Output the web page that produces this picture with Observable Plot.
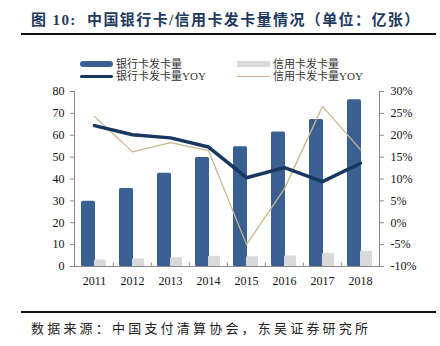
<!DOCTYPE html>
<html>
<head>
<meta charset="utf-8">
<script src="https://cdn.jsdelivr.net/npm/d3@7"></script>
<script src="https://cdn.jsdelivr.net/npm/@observablehq/plot@0.6"></script>
<style>
  html, body { margin: 0; padding: 0; background: #fff; }
  #page { position: relative; width: 440px; height: 346px; overflow: hidden; font-family: "Liberation Serif", "Noto Sans CJK SC", serif; }
  #title { position: absolute; left: 31px; top: 10px; font-size: 15px; line-height: 20px; font-weight: bold; color: #1f3a5f; letter-spacing: 1.4px; white-space: nowrap; }
  .rule { position: absolute; left: 21px; width: 415px; height: 2px; background: #111; }
  .leg { position: absolute; font-size: 11px; line-height: 12px; color: #333; white-space: nowrap; display: flex; align-items: center; }
  .sw { display: inline-block; width: 33px; margin-right: 3px; }
  #chart { position: absolute; left: 0; top: 84px; }
  #source { position: absolute; left: 31px; top: 320px; font-size: 13px; line-height: 18px; color: #222; letter-spacing: 3.2px; white-space: nowrap; }
</style>
</head>
<body>
<div id="page">
  <div id="title">图 10:&nbsp; 中国银行卡/信用卡发卡量情况（单位：亿张）</div>
  <div class="rule" style="top:33px"></div>
  <div id="legend"></div>
  <div id="chart"></div>
  <div class="rule" style="top:311px"></div>
  <div id="source">数据来源：中国支付清算协会，东吴证券研究所</div>
</div>
<script>
const years = ["2011", "2012", "2013", "2014", "2015", "2016", "2017", "2018"];
const bankCards = [29.8, 35.7, 42.6, 49.8, 54.7, 61.5, 67.2, 76.2];
const creditCards = [3.0, 3.4, 4.0, 4.7, 4.5, 4.8, 6.0, 7.0];
const bankYoy = [22.2, 20.1, 19.4, 17.3, 10.3, 12.6, 9.4, 13.6];
const creditYoy = [24.3, 16.2, 18.3, 16.5, -5.0, 7.8, 26.6, 16.7];
const leftTicks = [0, 10, 20, 30, 40, 50, 60, 70, 80];
const rightTicks = [-10, -5, 0, 5, 10, 15, 20, 25, 30];
const seriesNames = ["银行卡发卡量", "信用卡发卡量", "银行卡发卡量YOY", "信用卡发卡量YOY"];

const colors = { bank: "#3a5f92", credit: "#d9d9d9", bankLine: "#17375e", creditLine: "#c7b88e", axis: "#8a8a8a" };

// right axis (-10%..30%) mapped onto left domain (0..80)
const toLeft = v => (v + 10) * 2;
const fromLeft = d => d / 2 - 10;

const rows = years.map((year, i) => ({
  year, bank: bankCards[i], credit: creditCards[i],
  bankYoy: toLeft(bankYoy[i]), creditYoy: toLeft(creditYoy[i])
}));

// legend
const legend = document.getElementById("legend");
const legItems = [
  { name: seriesNames[0], left: 80, top: 58, sw: `height:6px;background:${colors.bank};border-radius:3px;` },
  { name: seriesNames[1], left: 237, top: 58, sw: `height:6px;background:${colors.credit};` },
  { name: seriesNames[2], left: 80, top: 70, sw: `height:3px;background:${colors.bankLine};border-radius:2px;` },
  { name: seriesNames[3], left: 237, top: 70, sw: `height:1px;background:${colors.creditLine};` }
];
for (const it of legItems) {
  const d = document.createElement("div");
  d.className = "leg";
  d.style.left = it.left + "px";
  d.style.top = it.top + "px";
  d.innerHTML = `<span class="sw" style="${it.sw}"></span><span>${it.name}</span>`;
  legend.appendChild(d);
}

const W = 440, H = 212, mL = 74, mR = 61;
const pInner = 0.32, pOuter = 0.143;
const step = (W - mL - mR) / (years.length - pInner + 2 * pOuter);
const bw = step * (1 - pInner);

const chart = Plot.plot({
  width: W, height: H,
  marginLeft: mL, marginRight: mR, marginTop: 7, marginBottom: 30,
  style: { fontFamily: "Liberation Serif, serif", fontSize: "12px", color: "#111", background: "transparent" },
  x: { type: "band", domain: years, paddingInner: pInner, paddingOuter: pOuter, label: null },
  y: { domain: [0, 80], label: null },
  marks: [
    Plot.barY(rows, { x: "year", y: "bank", fill: colors.bank, insetRight: bw / 2 - 1, rx: 1.5 }),
    Plot.barY(rows, { x: "year", y: "credit", fill: colors.credit, insetLeft: bw / 2, insetRight: 1, rx: 1 }),
    Plot.line(rows, { x: "year", y: "creditYoy", stroke: colors.creditLine, strokeWidth: 1.3 }),
    Plot.line(rows, { x: "year", y: "bankYoy", stroke: colors.bankLine, strokeWidth: 3.5, strokeLinejoin: "round" }),
    Plot.frame({ anchor: "left", stroke: colors.axis }),
    Plot.frame({ anchor: "right", stroke: colors.axis }),
    Plot.ruleY([0], { stroke: colors.axis }),
    Plot.ruleX(years.slice(1), { x: d => d, y1: 0, y2: 1.6, dx: -step / 2, stroke: colors.axis }),
    Plot.axisY({ anchor: "left", ticks: leftTicks, tickSize: 4, tickPadding: 6, stroke: colors.axis, tickFormat: d => String(d), label: null }),
    Plot.axisY({ anchor: "right", ticks: rightTicks.map(toLeft), tickSize: 4, tickPadding: 7, stroke: colors.axis, tickFormat: d => fromLeft(d) + "%", label: null }),
    Plot.axisX({ tickSize: 0, tickPadding: 10, label: null })
  ]
});
document.getElementById("chart").appendChild(chart);
</script>
</body>
</html>
